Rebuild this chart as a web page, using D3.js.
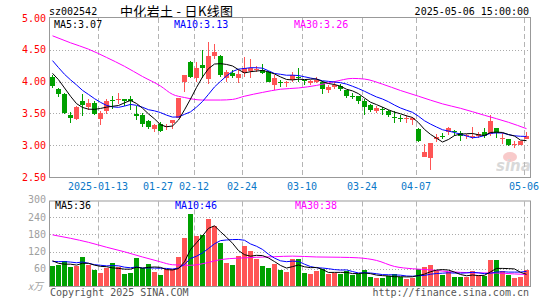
<html>
<head>
<meta charset="utf-8">
<title>中化岩土 - 日K线图</title>
<style type="text/css">
body{margin:0;background:#fff}
text{font-family:"DejaVu Sans Mono",monospace;font-size:10px}
</style>
<script src="https://d3js.org/d3.v7.min.js"></script>
</head>
<body>
<svg width="545" height="300"></svg>
<script>
var dates = ["2024-12-31",
  "2025-01-02","2025-01-03","2025-01-06","2025-01-07","2025-01-08","2025-01-09","2025-01-10",
  "2025-01-13","2025-01-14","2025-01-15","2025-01-16","2025-01-17","2025-01-20","2025-01-21",
  "2025-01-22","2025-01-23","2025-01-24","2025-01-27",
  "2025-02-05","2025-02-06","2025-02-07","2025-02-10","2025-02-11","2025-02-12","2025-02-13",
  "2025-02-14","2025-02-17","2025-02-18","2025-02-19","2025-02-20","2025-02-21","2025-02-24",
  "2025-02-25","2025-02-26","2025-02-27","2025-02-28",
  "2025-03-03","2025-03-04","2025-03-05","2025-03-06","2025-03-07","2025-03-10","2025-03-11",
  "2025-03-12","2025-03-13","2025-03-14","2025-03-17","2025-03-18","2025-03-19","2025-03-20",
  "2025-03-21","2025-03-24","2025-03-25","2025-03-26","2025-03-27","2025-03-28","2025-03-31",
  "2025-04-01","2025-04-02","2025-04-03","2025-04-07","2025-04-08","2025-04-09","2025-04-10",
  "2025-04-11","2025-04-14","2025-04-15","2025-04-16","2025-04-17","2025-04-18","2025-04-21",
  "2025-04-22","2025-04-23","2025-04-24","2025-04-25","2025-04-28","2025-04-29","2025-04-30",
  "2025-05-06"];

var opens  = [4.07,3.88,3.81,3.47,3.41,3.69,3.60,3.66,3.41,3.53,3.71,3.72,3.72,3.73,3.49,3.47,3.38,3.26,3.33,3.28,
              3.35,3.43,3.99,4.31,4.05,4.26,4.04,4.41,4.41,4.05,4.13,4.05,4.14,4.16,4.18,4.18,4.15,3.95,3.99,3.98,
              4.02,4.08,4.03,3.98,4.00,3.99,3.87,3.92,3.93,3.87,3.77,3.77,3.69,3.63,3.54,3.57,3.53,3.45,3.43,3.41,
              3.39,3.26,2.82,2.80,3.10,3.14,3.20,3.23,3.19,3.14,3.13,3.14,3.20,3.17,3.27,3.11,3.09,3.01,3.01,3.10];
var highs  = [4.11,3.90,3.82,3.52,3.61,3.80,3.72,3.69,3.53,3.72,3.78,3.82,3.73,3.78,3.61,3.50,3.40,3.34,3.37,3.34,
              3.39,3.75,4.11,4.33,4.31,4.50,4.63,4.59,4.42,4.19,4.18,4.19,4.39,4.35,4.24,4.27,4.16,4.10,4.02,4.01,
              4.15,4.21,4.03,4.03,4.07,4.01,3.95,4.01,3.96,3.87,3.82,3.78,3.72,3.64,3.61,3.60,3.56,3.54,3.48,3.47,
              3.44,3.27,3.02,3.03,3.17,3.19,3.28,3.24,3.22,3.18,3.28,3.20,3.27,3.47,3.27,3.19,3.10,3.06,3.07,3.20];
var lows   = [3.90,3.76,3.49,3.35,3.39,3.46,3.56,3.47,3.32,3.49,3.57,3.65,3.62,3.56,3.40,3.29,3.25,3.21,3.21,3.24,
              3.26,3.42,3.83,4.05,4.00,4.05,3.96,4.36,4.07,4.00,4.05,3.98,4.08,4.06,4.15,4.12,3.99,3.87,3.91,3.91,
              4.00,4.00,3.95,3.95,3.98,3.80,3.82,3.89,3.85,3.74,3.72,3.65,3.48,3.52,3.51,3.48,3.45,3.35,3.37,3.35,
              3.32,3.05,2.81,2.61,3.05,3.09,3.16,3.15,3.07,3.09,3.09,3.11,3.12,3.15,3.11,3.02,2.98,2.96,3.00,3.09];
var closes = [3.93,3.81,3.50,3.43,3.60,3.63,3.67,3.49,3.50,3.70,3.70,3.73,3.70,3.69,3.46,3.33,3.28,3.31,3.23,3.30,
              3.39,3.75,4.11,4.08,4.21,4.21,4.41,4.47,4.11,4.15,4.09,4.12,4.21,4.21,4.20,4.14,4.00,4.05,3.98,4.00,
              4.10,4.06,4.02,4.01,4.02,3.89,3.91,3.94,3.88,3.78,3.76,3.69,3.60,3.55,3.59,3.56,3.48,3.42,3.42,3.43,
              3.43,3.07,2.89,3.03,3.13,3.13,3.27,3.20,3.14,3.16,3.15,3.17,3.14,3.38,3.19,3.12,3.01,3.02,3.06,3.15];
// volume in 万手
var volumes = [69,73,87,65,70,100,73,55,44,64,79,65,41,44,97,64,78,48,37,58,
               58,102,166,251,175,178,233,210,149,79,73,105,139,123,94,68,64,76,56,48,
               93,93,44,41,52,58,41,45,41,52,37,41,55,30,27,27,36,41,31,23,
               29,59,65,72,52,38,50,30,30,30,51,40,35,90,90,51,37,29,31,55];

// closes / volumes before the first visible day (so MA5/MA10 start where the chart shows)
var prevCloses  = [4.91,4.55,4.30,4.40,4.49,4.31,4.15,4.08,4.18];
var prevVolumes = [74,89,79,94,74,118,102,65,86];

// MA30 lines
var ma30Day   = [0,3,6,9,12,15,18,20,22,25,28,30,32,35,38,41,44,47,50,52,55,58,61,65,68,72,76,79];
var ma30Price = [4.72,4.61,4.51,4.38,4.24,4.08,3.93,3.80,3.75,3.71,3.71,3.72,3.77,3.83,3.88,3.90,3.94,4.00,4.05,4.04,3.96,3.86,3.77,3.65,3.58,3.47,3.36,3.26];
var vma30Day  = [0,3,6,9,12,15,18,20,23,26,28,31,34,37,40,44,48,51,54,57,60,63,66,70,74,77,79];
var vma30Vol  = [178,166,152,135,119,101,84,74,72,82,92,97,100,102,104,101,100,98,89,68,60,56,50,46,45,42,40];

var priceTicks = [5.00,4.50,4.00,3.50,3.00,2.50];
var volTicks   = [300,240,180,120,60];
var tickDates  = ["2025-01-13","2025-01-27","2025-02-12","2025-02-24","2025-03-10","2025-03-24","2025-04-07","2025-05-06"];
var tickLabels = ["2025-01-13","01-27","02-12","02-24","03-10","03-24","04-07","05-06"];
var priceLegend = ["MA5:3.07","MA10:3.13","MA30:3.26"];
var volLegend   = ["MA5:36","MA10:46","MA30:38"];

var svg = d3.select("svg"),
    left = 50, right = 530,
    pTop = 18, pBot = 177,
    vTop = 201.5, vBot = 286,
    red = "#ff5555", green = "#00a000";

var x = d3.scaleBand().domain(dates).range([left, right]);
var bw = x.bandwidth();
var yP = d3.scaleLinear().domain([2.5, 5]).range([pBot, pTop]);
var yV = d3.scaleLinear().domain([0, 300]).range([vBot, 199.8]);
var maColors = ["#000", "#0000ff", "#ff00ff"];

function movingAvg(values, prev, n) {
  var all = prev.concat(values);
  return values.map(function(v, i) {
    var end = i + prev.length + 1;
    return d3.mean(all.slice(end - n, end));
  });
}
var isUp = function(i) { return closes[i] >= opens[i]; };
var cx = function(i) { return x(dates[i]) + 2.5; };

// header
svg.append("text").attr("x", 49).attr("y", 15).text("sz002542");
svg.append("text").attr("x", 120).attr("y", 16)
   .style("font-family", "'Noto Sans CJK SC'").style("font-size", "13px")
   .attr("textLength", 113).text("中化岩土 - 日K线图");
svg.append("text").attr("x", 529).attr("y", 15).attr("text-anchor", "end").text("2025-05-06 15:00:00");

// panels: grid + frames
function panel(top, bot, ticks, y) {
  var g = svg.append("g");
  g.selectAll(".h").data(ticks.filter(function(t) { return y(t) > top + 2 && y(t) < bot - 2; }))
    .enter().append("line")
      .attr("x1", left).attr("x2", right)
      .attr("y1", function(d) { return Math.round(y(d)) + 0.5; })
      .attr("y2", function(d) { return Math.round(y(d)) + 0.5; })
      .attr("stroke", "#aaa").attr("stroke-dasharray", "1,2");
  g.selectAll(".v").data(tickDates).enter().append("line")
      .attr("x1", function(d) { return x(d) + 0.5; }).attr("x2", function(d) { return x(d) + 0.5; })
      .attr("y1", top).attr("y2", bot)
      .attr("stroke", "#b4b4b4").attr("stroke-dasharray", "5,3");
  g.append("rect").attr("x", left - 0.5).attr("y", top - 0.5)
      .attr("width", right - left + 1).attr("height", bot - top + 1)
      .attr("fill", "none").attr("stroke", "#999");
}
panel(pTop, pBot, priceTicks, yP);
panel(vTop, vBot, volTicks, yV);

// sina watermark
var wm = svg.append("g").attr("opacity", 0.55);
wm.append("ellipse").attr("cx", 510).attr("cy", 157).attr("rx", 7).attr("ry", 5).attr("fill", "#f4a0a0");
wm.append("text").attr("x", 496).attr("y", 171).text("sina")
  .style("font-family", "'DejaVu Sans'").style("font-size", "15px")
  .style("font-style", "italic").style("font-weight", "bold").attr("fill", "#bbb");

// price axis labels
svg.append("g").selectAll("text").data(priceTicks).enter().append("text")
   .attr("x", 46).attr("y", function(d) { return yP(d); }).attr("dy", "0.35em")
   .attr("text-anchor", "end").attr("fill", "#ff0000").text(function(d) { return d.toFixed(2); });

// date labels
svg.append("g").selectAll("text").data(tickDates).enter().append("text")
   .attr("x", function(d) { return x(d); }).attr("y", 190)
   .attr("text-anchor", "middle").attr("fill", "#0a78c8")
   .text(function(d, i) { return tickLabels[i]; });

// candles
var idx = d3.range(dates.length);
var candles = svg.append("g").attr("shape-rendering", "crispEdges");
candles.selectAll("line").data(idx).enter().append("line")
   .attr("x1", function(i) { return x(dates[i]) + 2.5; }).attr("x2", function(i) { return x(dates[i]) + 2.5; })
   .attr("y1", function(i) { return yP(highs[i]); }).attr("y2", function(i) { return yP(lows[i]); })
   .attr("stroke", function(i) { return isUp(i) ? red : green; });
candles.selectAll("rect").data(idx).enter().append("rect")
   .attr("x", function(i) { return x(dates[i]); }).attr("width", bw - 1)
   .attr("y", function(i) { return yP(Math.max(opens[i], closes[i])); })
   .attr("height", function(i) { return Math.max(1, Math.abs(yP(opens[i]) - yP(closes[i]))); })
   .attr("fill", function(i) { return isUp(i) ? red : green; });

// volume bars
svg.append("g").attr("shape-rendering", "crispEdges")
   .selectAll("rect").data(idx).enter().append("rect")
   .attr("x", function(i) { return x(dates[i]); }).attr("width", bw - 1)
   .attr("y", function(i) { return yV(volumes[i]); })
   .attr("height", function(i) { return vBot - yV(volumes[i]); })
   .attr("fill", function(i) { return isUp(i) ? red : green; });

// MA lines
function drawLine(vals, y, color) {
  svg.append("path").datum(vals)
     .attr("fill", "none").attr("stroke", color).attr("stroke-width", 1)
     .attr("d", d3.line().x(function(d, i) { return cx(i); }).y(function(d) { return y(d); }));
}
function drawSparse(days, vals, y, color) {
  svg.append("path").datum(days)
     .attr("fill", "none").attr("stroke", color).attr("stroke-width", 1)
     .attr("d", d3.line().curve(d3.curveMonotoneX)
        .x(function(d) { return cx(d); })
        .y(function(d, i) { return y(vals[i]); }));
}
drawSparse(ma30Day, ma30Price, yP, maColors[2]);
drawLine(movingAvg(closes, prevCloses, 10), yP, maColors[1]);
drawLine(movingAvg(closes, prevCloses, 5), yP, maColors[0]);
drawSparse(vma30Day, vma30Vol, yV, maColors[2]);
drawLine(movingAvg(volumes, prevVolumes, 10), yV, maColors[1]);
drawLine(movingAvg(volumes, prevVolumes, 5), yV, maColors[0]);

// legends
var legendX = [54, 174, 294];
svg.append("g").selectAll("text").data(priceLegend).enter().append("text")
   .attr("x", function(d, i) { return legendX[i]; }).attr("y", 28)
   .attr("fill", function(d, i) { return maColors[i]; }).text(function(d) { return d; });
svg.append("g").selectAll("text").data(volLegend).enter().append("text")
   .attr("x", function(d, i) { return legendX[i] + 1; }).attr("y", 209)
   .attr("fill", function(d, i) { return maColors[i]; }).text(function(d) { return d; });

// volume axis labels
svg.append("g").selectAll("text").data(volTicks).enter().append("text")
   .attr("x", 46).attr("y", function(d) { return yV(d); }).attr("dy", "0.35em")
   .attr("text-anchor", "end").attr("fill", "#a0a0a0").text(function(d) { return d; });
svg.append("text").attr("x", 28).attr("y", 290).attr("fill", "#a0a0a0")
   .style("font-family", "'Noto Sans CJK SC'").style("font-style", "italic").text("x万");

// footer
svg.append("text").attr("x", 50).attr("y", 296).attr("fill", "#555").text("Copyright 2025 SINA.COM");
svg.append("text").attr("x", 529).attr("y", 296).attr("text-anchor", "end").attr("fill", "#555")
   .text("http://finance.sina.com.cn");
</script>
</body>
</html>
